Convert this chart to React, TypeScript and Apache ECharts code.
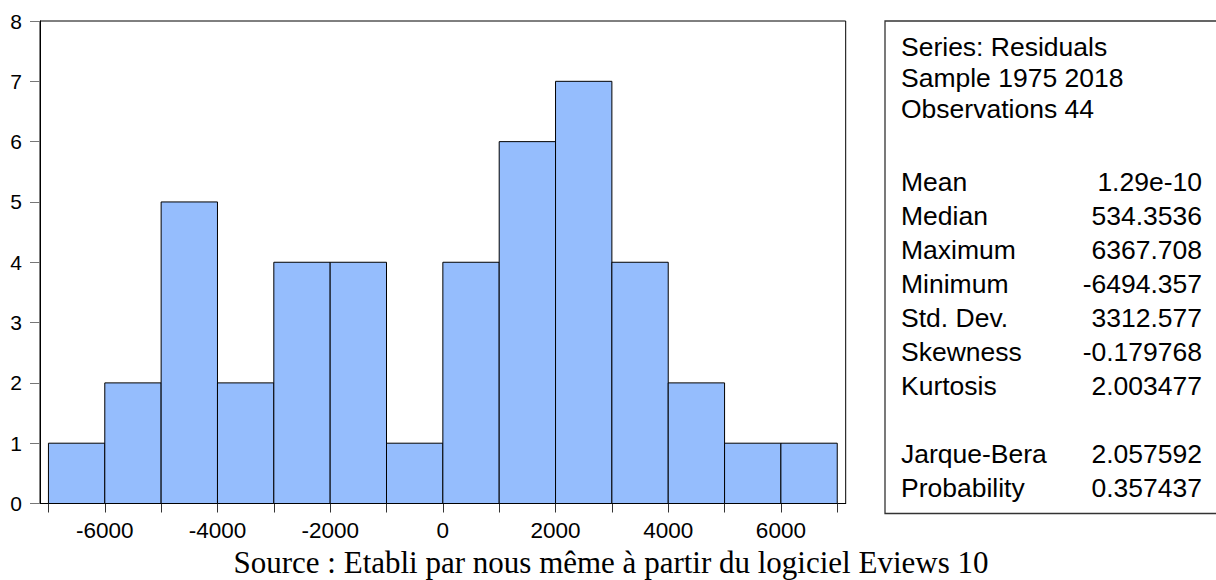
import React, { useEffect, useRef } from "react";
import * as echarts from "echarts";

// Histogram bins (residual intervals) and frequencies
const binEdges = [-7000, -6000, -5000, -4000, -3000, -2000, -1000, 0, 1000, 2000, 3000, 4000, 5000, 6000, 7000];
const counts = [1, 2, 5, 2, 4, 4, 1, 4, 6, 7, 4, 2, 1, 1];

// Axis ticks and labels
const xTickValues = [-7000, -6000, -5000, -4000, -3000, -2000, -1000, 0, 1000, 2000, 3000, 4000, 5000, 6000, 7000];
const xLabelValues = [-6000, -4000, -2000, 0, 2000, 4000, 6000];

// Statistics box
const headerLines = ["Series: Residuals", "Sample 1975 2018", "Observations 44"];
const statLabels = ["Mean", "Median", "Maximum", "Minimum", "Std. Dev.", "Skewness", "Kurtosis", "", "Jarque-Bera", "Probability"];
const statValues = ["1.29e-10", "534.3536", "6367.708", "-6494.357", "3312.577", "-0.179768", "2.003477", "", "2.057592", "0.357437"];

const sourceText = "Source : Etabli par nous même à partir du logiciel Eviews 10";

export default function App() {
  const ref = useRef<HTMLDivElement>(null);

  useEffect(() => {
    if (!ref.current) return;
    const chart = echarts.init(ref.current, null, { renderer: "svg" });

    const histData = counts.map((c, i) => [binEdges[i], binEdges[i + 1], c]);

    const font = "'Liberation Sans', Arial, sans-serif";
    const boxX = 885;
    const boxTop = 21;
    const boxBottom = 513.5;
    const labelX = 901;
    const valueX = 1202;
    const boxFont = `26.5px ${font}`;

    const graphics: any[] = [
      {
        type: "rect",
        shape: { x: boxX, y: boxTop, width: 1216 - boxX + 10, height: boxBottom - boxTop },
        style: { fill: "#fff", stroke: "#333", lineWidth: 1.3 },
        z: 1,
      },
    ];
    const headerY = [47, 78, 109];
    headerLines.forEach((t, i) => {
      graphics.push({
        type: "text",
        x: labelX,
        y: headerY[i],
        style: { text: t, font: boxFont, fill: "#000", textAlign: "left", textVerticalAlign: "middle" },
        z: 2,
      });
    });
    const statStart = 182;
    const statStep = 34;
    statLabels.forEach((t, i) => {
      if (!t) return;
      const y = statStart + i * statStep;
      graphics.push({
        type: "text",
        x: labelX,
        y,
        style: { text: t, font: boxFont, fill: "#000", textAlign: "left", textVerticalAlign: "middle" },
        z: 2,
      });
      graphics.push({
        type: "text",
        x: valueX,
        y,
        style: { text: statValues[i], font: boxFont, fill: "#000", textAlign: "right", textVerticalAlign: "middle" },
        z: 2,
      });
    });
    graphics.push({
      type: "text",
      x: 611,
      y: 562,
      style: {
        text: sourceText,
        font: `31px 'Liberation Serif', 'Times New Roman', serif`,
        fill: "#000",
        textAlign: "center",
        textVerticalAlign: "middle",
      },
      z: 2,
    });

    chart.setOption({
      animation: false,
      backgroundColor: "#fff",
      grid: {
        left: 40,
        right: 1216 - 845.7,
        top: 21,
        bottom: 580 - 503.5,
        show: true,
        borderColor: "#000",
        borderWidth: 1,
        backgroundColor: "transparent",
      },
      xAxis: {
        type: "value",
        min: -7150,
        max: 7150,
        axisLine: { show: true, onZero: false, lineStyle: { color: "#000", width: 1 } },
        axisTick: {
          show: true,
          inside: false,
          length: 9,
          customValues: xTickValues,
          lineStyle: { color: "#333" },
        },
        axisLabel: {
          customValues: xLabelValues,
          formatter: (v: number) => String(v),
          color: "#000",
          fontSize: 22.5,
          fontFamily: font,
          margin: 15,
        },
        splitLine: { show: false },
      },
      yAxis: {
        type: "value",
        min: 0,
        max: 8,
        interval: 1,
        axisLine: { show: true, onZero: false, lineStyle: { color: "#000", width: 1 } },
        axisTick: { show: true, inside: false, length: 10, lineStyle: { color: "#777" } },
        axisLabel: { color: "#000", fontSize: 21, fontFamily: font, margin: 18 },
        splitLine: { show: false },
      },
      series: [
        {
          type: "custom",
          data: histData,
          encode: { x: [0, 1], y: 2 },
          renderItem: (params: any, api: any) => {
            const p0 = api.coord([api.value(0), api.value(2)]);
            const p1 = api.coord([api.value(1), 0]);
            return {
              type: "rect",
              shape: { x: p0[0], y: p0[1], width: p1[0] - p0[0], height: p1[1] - p0[1] },
              style: { fill: "#95bdfd", stroke: "#000", lineWidth: 1 },
            };
          },
        },
      ],
      graphic: graphics,
    });

    return () => chart.dispose();
  }, []);

  return (
    <div
      ref={ref}
      style={{ position: "fixed", left: 0, top: 0, width: 1216, height: 580, background: "#fff" }}
    />
  );
}
